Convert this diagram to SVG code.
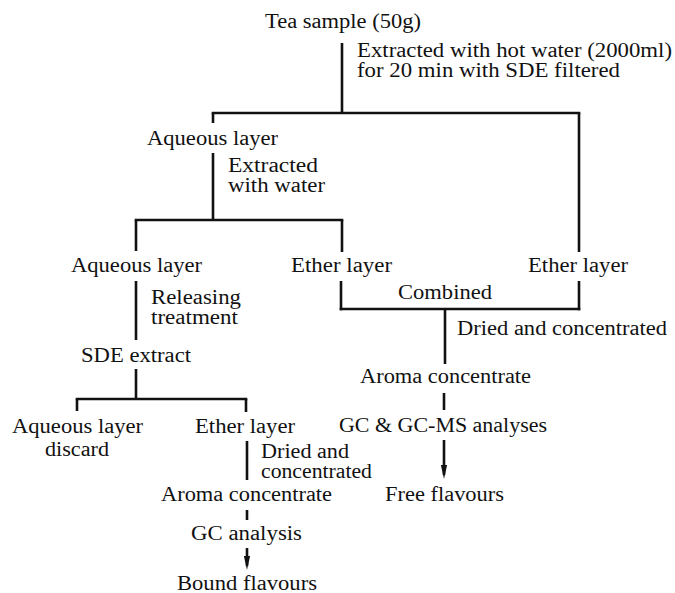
<svg xmlns="http://www.w3.org/2000/svg" width="675" height="593" viewBox="0 0 675 593">
<style>
text{font-family:"Liberation Serif","Times New Roman",serif;font-size:20px;fill:#111}
.c line{stroke:#111;stroke-width:2.6;fill:none}
</style>
<defs>
<marker id="ah" viewBox="0 0 14 7" markerWidth="14" markerHeight="7" refX="10" refY="3.5" orient="auto" markerUnits="userSpaceOnUse">
<path d="M0,0.4 L14,3.5 L0,6.6 z" fill="#111"/>
</marker>
</defs>
<rect width="675" height="593" fill="#fff"/>
<g class="c" id="connectors">
<line x1="342" y1="43" x2="342" y2="113"/>
<line x1="211.7" y1="113" x2="580.3" y2="113"/>
<line x1="213" y1="113" x2="213" y2="123"/>
<line x1="579" y1="113" x2="579" y2="252"/>
<line x1="213" y1="153" x2="213" y2="220"/>
<line x1="134.7" y1="220" x2="343.3" y2="220"/>
<line x1="136" y1="220" x2="136" y2="251"/>
<line x1="342" y1="220" x2="342" y2="252"/>
<line x1="136" y1="281" x2="136" y2="340"/>
<line x1="341" y1="281" x2="341" y2="310.3"/>
<line x1="579" y1="281" x2="579" y2="310.3"/>
<line x1="339.7" y1="309" x2="580.3" y2="309"/>
<line x1="445" y1="309" x2="445" y2="364"/>
<line x1="444" y1="393" x2="444" y2="410"/>
<line x1="444" y1="440" x2="444" y2="475" marker-end="url(#ah)"/>
<line x1="136" y1="369" x2="136" y2="399"/>
<line x1="75.7" y1="399" x2="247.3" y2="399"/>
<line x1="77" y1="399" x2="77" y2="411"/>
<line x1="246" y1="399" x2="246" y2="412"/>
<line x1="247" y1="441" x2="247" y2="480"/>
<line x1="247" y1="510" x2="247" y2="520"/>
<line x1="247" y1="548" x2="247" y2="566" marker-end="url(#ah)"/>
</g>
<g id="tea"><text x="265" y="28" textLength="156" lengthAdjust="spacingAndGlyphs">Tea sample (50g)</text></g>
<g id="step1"><text x="357" y="57" textLength="315" lengthAdjust="spacingAndGlyphs">Extracted with hot water (2000ml)</text><text x="357" y="77" textLength="263" lengthAdjust="spacingAndGlyphs">for 20 min with SDE filtered</text></g>
<g id="aq1"><text x="147" y="145" textLength="131" lengthAdjust="spacingAndGlyphs">Aqueous layer</text></g>
<g id="step2"><text x="228" y="172" textLength="90" lengthAdjust="spacingAndGlyphs">Extracted</text><text x="228" y="192" textLength="97" lengthAdjust="spacingAndGlyphs">with water</text></g>
<g id="aq2"><text x="71" y="272" textLength="131" lengthAdjust="spacingAndGlyphs">Aqueous layer</text></g>
<g id="eth1"><text x="291" y="272" textLength="101" lengthAdjust="spacingAndGlyphs">Ether layer</text></g>
<g id="eth2"><text x="528" y="272" textLength="100" lengthAdjust="spacingAndGlyphs">Ether layer</text></g>
<g id="release"><text x="151" y="304" textLength="90" lengthAdjust="spacingAndGlyphs">Releasing</text><text x="151" y="324" textLength="87" lengthAdjust="spacingAndGlyphs">treatment</text></g>
<g id="combined"><text x="398" y="299" textLength="94" lengthAdjust="spacingAndGlyphs">Combined</text></g>
<g id="dried1"><text x="457" y="335" textLength="210" lengthAdjust="spacingAndGlyphs">Dried and concentrated</text></g>
<g id="sde"><text x="81" y="362" textLength="110" lengthAdjust="spacingAndGlyphs">SDE extract</text></g>
<g id="aroma1"><text x="360" y="383" textLength="171" lengthAdjust="spacingAndGlyphs">Aroma concentrate</text></g>
<g id="aq3"><text x="12" y="433" textLength="131" lengthAdjust="spacingAndGlyphs">Aqueous layer</text><text x="45" y="456" textLength="64" lengthAdjust="spacingAndGlyphs">discard</text></g>
<g id="eth3"><text x="195" y="433" textLength="100" lengthAdjust="spacingAndGlyphs">Ether layer</text></g>
<g id="gcms"><text x="339" y="432" textLength="208" lengthAdjust="spacingAndGlyphs">GC &amp; GC-MS analyses</text></g>
<g id="dried2"><text x="261" y="458" textLength="88" lengthAdjust="spacingAndGlyphs">Dried and</text><text x="261" y="478" textLength="111" lengthAdjust="spacingAndGlyphs">concentrated</text></g>
<g id="aroma2"><text x="161" y="501" textLength="171" lengthAdjust="spacingAndGlyphs">Aroma concentrate</text></g>
<g id="free"><text x="385" y="501" textLength="119" lengthAdjust="spacingAndGlyphs">Free flavours</text></g>
<g id="gc"><text x="191" y="540" textLength="111" lengthAdjust="spacingAndGlyphs">GC analysis</text></g>
<g id="bound"><text x="177" y="590" textLength="140" lengthAdjust="spacingAndGlyphs">Bound flavours</text></g>
</svg>
